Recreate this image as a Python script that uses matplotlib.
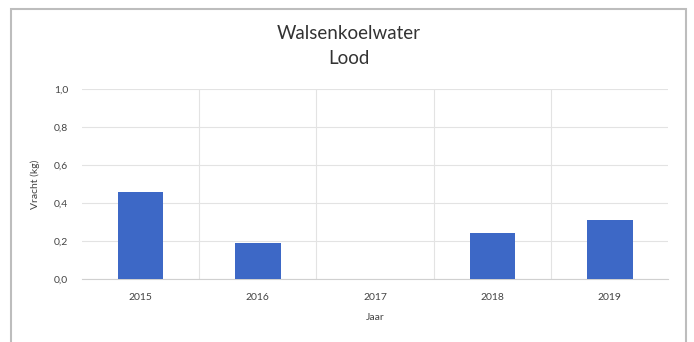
import matplotlib.pyplot as plt
from matplotlib.patches import Rectangle

plt.rcParams['font.family'] = ['Lato', 'DejaVu Sans']

jaren = ['2015', '2016', '2017', '2018', '2019']
vracht = [0.46, 0.19, 0.0, 0.24, 0.31]
y_ticks = [0.0, 0.2, 0.4, 0.6, 0.8, 1.0]

fig = plt.figure(figsize=(6.94, 3.42), dpi=100)
ax = fig.add_axes([0.118, 0.184, 0.845, 0.556])

x = range(len(jaren))
ax.bar(x, vracht, width=0.39, color='#3D68C6', zorder=3)

ax.set_xlim(-0.5, len(jaren) - 0.5)
ax.set_ylim(0, 1.0)
ax.set_yticks(y_ticks)
ax.set_yticklabels([f'{v:.1f}'.replace('.', ',') for v in y_ticks])
ax.set_xticks(list(x))
ax.set_xticklabels(jaren)
ax.set_xticks([i + 0.5 for i in range(len(jaren) - 1)], minor=True)

ax.grid(axis='y', color='#e3e3e3', linewidth=0.8, zorder=0)
ax.grid(axis='x', which='minor', color='#e3e3e3', linewidth=0.8, zorder=0)
ax.tick_params(which='both', length=0, labelsize=7.5, colors='#444444', pad=10)
for s in ['top', 'right', 'left']:
    ax.spines[s].set_visible(False)
ax.spines['bottom'].set_color('#d0d0d0')

ax.set_ylabel('Vracht (kg)', fontsize=7.5, color='#444444', labelpad=10)
ax.set_xlabel('Jaar', fontsize=7.5, color='#444444', labelpad=8)

fig.text(0.503, 0.903, 'Walsenkoelwater', ha='center', va='center', fontsize=13.5, color='#333333')
fig.text(0.503, 0.830, 'Lood', ha='center', va='center', fontsize=13.5, color='#333333')

fig.patches.append(Rectangle((11 / 694, -0.05), 675 / 694, 1.05 - 9 / 342,
                             transform=fig.transFigure, fill=False,
                             edgecolor='#bdbdbd', linewidth=1.5))

fig.savefig('out.png', dpi=100)
